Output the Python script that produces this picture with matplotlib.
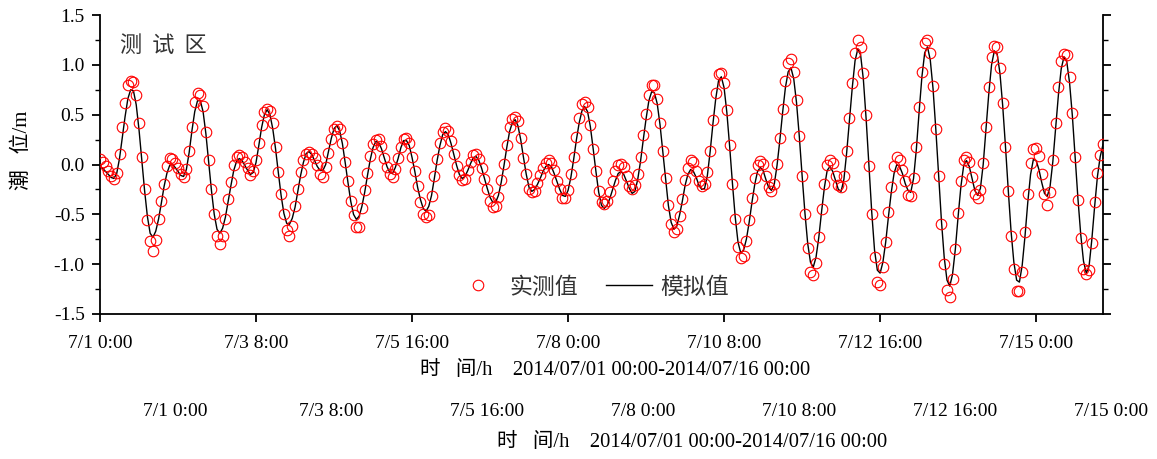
import matplotlib
matplotlib.use('Agg')
import matplotlib.pyplot as plt
from matplotlib.ticker import MultipleLocator, FixedLocator, FixedFormatter, FuncFormatter

# ---------------- data (hourly, 2014/07/01 00:00 - 07/16 00:00) ----------------
hours = list(range(361))

simulated = [
    -0.02, -0.04, -0.07, -0.10, -0.13, -0.14, -0.09, 0.06, 0.27, 0.48,
    0.66, 0.75, 0.74, 0.60, 0.35, 0.05, -0.26, -0.52, -0.69, -0.73,
    -0.67, -0.55, -0.39, -0.22, -0.09, -0.01, 0.00, -0.03, -0.07, -0.11,
    -0.12, -0.05, 0.12, 0.34, 0.53, 0.64, 0.64, 0.53, 0.31, 0.03,
    -0.26, -0.50, -0.65, -0.69, -0.64, -0.53, -0.37, -0.21, -0.06, 0.03,
    0.06, 0.04, -0.01, -0.06, -0.10, -0.08, 0.02, 0.19, 0.37, 0.50,
    0.55, 0.50, 0.36, 0.16, -0.08, -0.31, -0.49, -0.59, -0.60, -0.54,
    -0.43, -0.27, -0.11, 0.02, 0.11, 0.13, 0.10, 0.04, -0.02, -0.06,
    -0.06, 0.00, 0.13, 0.26, 0.36, 0.39, 0.34, 0.21, 0.02, -0.18,
    -0.37, -0.50, -0.55, -0.52, -0.42, -0.28, -0.11, 0.05, 0.17, 0.23,
    0.22, 0.16, 0.07, -0.02, -0.08, -0.09, -0.03, 0.06, 0.17, 0.24,
    0.24, 0.19, 0.07, -0.07, -0.23, -0.35, -0.44, -0.47, -0.42, -0.31,
    -0.14, 0.04, 0.19, 0.30, 0.33, 0.30, 0.21, 0.10, -0.01, -0.10,
    -0.14, -0.12, -0.06, 0.01, 0.07, 0.08, 0.04, -0.04, -0.14, -0.24,
    -0.33, -0.38, -0.38, -0.31, -0.18, -0.01, 0.17, 0.33, 0.42, 0.45,
    0.39, 0.25, 0.07, -0.10, -0.23, -0.27, -0.25, -0.20, -0.14, -0.07,
    -0.02, 0.00, -0.02, -0.09, -0.17, -0.25, -0.31, -0.32, -0.26, -0.13,
    0.05, 0.25, 0.42, 0.54, 0.58, 0.53, 0.38, 0.16, -0.07, -0.28,
    -0.41, -0.44, -0.41, -0.34, -0.25, -0.16, -0.09, -0.07, -0.10, -0.17,
    -0.24, -0.29, -0.27, -0.15, 0.03, 0.25, 0.46, 0.64, 0.73, 0.72,
    0.61, 0.40, 0.13, -0.15, -0.41, -0.58, -0.65, -0.62, -0.51, -0.37,
    -0.21, -0.10, -0.05, -0.07, -0.13, -0.21, -0.25, -0.24, -0.11, 0.13,
    0.41, 0.66, 0.84, 0.88, 0.77, 0.52, 0.18, -0.19, -0.53, -0.78,
    -0.89, -0.86, -0.75, -0.58, -0.38, -0.20, -0.07, -0.03, -0.06, -0.15,
    -0.23, -0.26, -0.20, -0.01, 0.24, 0.52, 0.77, 0.93, 0.97, 0.86,
    0.62, 0.28, -0.11, -0.48, -0.79, -0.98, -1.03, -0.93, -0.73, -0.47,
    -0.23, -0.06, -0.02, -0.07, -0.16, -0.25, -0.27, -0.15, 0.12, 0.45,
    0.77, 1.04, 1.16, 1.10, 0.85, 0.45, -0.02, -0.48, -0.86, -1.06,
    -1.09, -0.98, -0.78, -0.52, -0.28, -0.09, 0.00, -0.02, -0.09, -0.19,
    -0.26, -0.28, -0.14, 0.15, 0.53, 0.88, 1.12, 1.18, 1.05, 0.76,
    0.35, -0.11, -0.56, -0.93, -1.16, -1.22, -1.10, -0.85, -0.52, -0.22,
    -0.01, 0.04, -0.02, -0.14, -0.26, -0.31, -0.24, 0.00, 0.35, 0.71,
    1.00, 1.14, 1.11, 0.92, 0.59, 0.18, -0.26, -0.67, -0.98, -1.16,
    -1.18, -1.01, -0.72, -0.38, -0.10, 0.05, 0.04, -0.05, -0.18, -0.29,
    -0.32, -0.22, 0.03, 0.36, 0.70, 0.96, 1.08, 1.03, 0.82, 0.49,
    0.08, -0.34, -0.70, -0.97, -1.09, -1.02, -0.75, -0.42, -0.12, 0.08,
    0.20,
]

observed = [
    0.06, 0.03, -0.02, -0.07, -0.12, -0.15, -0.09, 0.11, 0.38, 0.62,
    0.80, 0.84, 0.83, 0.70, 0.42, 0.08, -0.25, -0.56, -0.77, -0.87,
    -0.76, -0.55, -0.37, -0.20, -0.02, 0.07, 0.06, 0.02, -0.04, -0.10,
    -0.13, -0.05, 0.14, 0.38, 0.63, 0.72, 0.70, 0.59, 0.33, 0.05,
    -0.25, -0.50, -0.72, -0.80, -0.72, -0.55, -0.35, -0.18, -0.01, 0.08,
    0.10, 0.08, 0.03, -0.04, -0.11, -0.07, 0.05, 0.22, 0.40, 0.53,
    0.56, 0.54, 0.42, 0.18, -0.08, -0.30, -0.50, -0.66, -0.72, -0.62,
    -0.42, -0.25, -0.08, 0.05, 0.11, 0.13, 0.11, 0.07, 0.00, -0.10,
    -0.13, -0.03, 0.12, 0.26, 0.36, 0.39, 0.36, 0.22, 0.03, -0.17,
    -0.37, -0.51, -0.63, -0.63, -0.44, -0.26, -0.09, 0.09, 0.21, 0.25,
    0.26, 0.19, 0.07, -0.03, -0.10, -0.13, -0.05, 0.07, 0.18, 0.26,
    0.27, 0.22, 0.08, -0.07, -0.22, -0.38, -0.50, -0.53, -0.51, -0.32,
    -0.12, 0.06, 0.22, 0.33, 0.37, 0.34, 0.24, 0.11, -0.02, -0.11,
    -0.16, -0.15, -0.06, 0.03, 0.10, 0.11, 0.06, -0.04, -0.15, -0.25,
    -0.37, -0.43, -0.42, -0.33, -0.16, 0.01, 0.20, 0.38, 0.46, 0.48,
    0.44, 0.27, 0.07, -0.10, -0.25, -0.28, -0.27, -0.19, -0.11, -0.04,
    0.02, 0.05, 0.02, -0.06, -0.17, -0.25, -0.34, -0.34, -0.26, -0.10,
    0.08, 0.28, 0.47, 0.61, 0.63, 0.58, 0.40, 0.16, -0.07, -0.27,
    -0.38, -0.40, -0.37, -0.28, -0.17, -0.07, -0.01, 0.01, -0.03, -0.12,
    -0.22, -0.25, -0.21, -0.10, 0.08, 0.30, 0.51, 0.70, 0.80, 0.80,
    0.66, 0.42, 0.14, -0.14, -0.41, -0.60, -0.68, -0.65, -0.52, -0.35,
    -0.16, -0.04, 0.05, 0.03, -0.07, -0.17, -0.22, -0.20, -0.08, 0.14,
    0.45, 0.72, 0.91, 0.92, 0.82, 0.55, 0.20, -0.20, -0.55, -0.83,
    -0.94, -0.92, -0.77, -0.56, -0.34, -0.14, -0.01, 0.04, 0.01, -0.12,
    -0.23, -0.27, -0.20, 0.01, 0.27, 0.56, 0.84, 1.02, 1.06, 0.93,
    0.65, 0.29, -0.12, -0.50, -0.84, -1.08, -1.11, -0.99, -0.73, -0.45,
    -0.20, 0.00, 0.05, 0.02, -0.12, -0.21, -0.23, -0.12, 0.14, 0.47,
    0.82, 1.12, 1.25, 1.18, 0.92, 0.50, -0.02, -0.50, -0.93, -1.18,
    -1.21, -1.03, -0.78, -0.48, -0.23, -0.02, 0.08, 0.05, -0.06, -0.17,
    -0.31, -0.32, -0.14, 0.18, 0.58, 0.93, 1.22, 1.25, 1.12, 0.79,
    0.36, -0.12, -0.60, -1.00, -1.26, -1.33, -1.15, -0.85, -0.49, -0.17,
    0.05, 0.08, 0.03, -0.13, -0.30, -0.34, -0.26, 0.02, 0.38, 0.78,
    1.08, 1.19, 1.18, 0.97, 0.62, 0.18, -0.27, -0.72, -1.05, -1.27,
    -1.27, -1.08, -0.68, -0.30, 0.02, 0.16, 0.17, 0.09, -0.10, -0.30,
    -0.41, -0.28, 0.05, 0.42, 0.78, 1.04, 1.11, 1.10, 0.88, 0.52,
    0.08, -0.36, -0.74, -1.05, -1.10, -1.06, -0.79, -0.38, -0.09, 0.10,
    0.21,
]

tick_hours = [0, 56, 112, 168, 224, 280, 336]
tick_labels = ['7/1 0:00', '7/3 8:00', '7/5 16:00', '7/8 0:00',
               '7/10 8:00', '7/12 16:00', '7/15 0:00']

# ---------------- figure ----------------
W, H = 1157, 459
fig = plt.figure(figsize=(W / 100, H / 100), dpi=100)
ax = fig.add_axes([100 / W, 1 - 314 / H, 1003 / W, 299 / H])

serif = ['Liberation Serif', 'Noto Sans CJK SC']
cjk = ['Noto Sans CJK SC', 'Liberation Serif']

ax.plot(hours, simulated, color='black', lw=1.0, label='模拟值', zorder=2)
ax.plot(hours, observed, linestyle='none', marker='o', mfc='none', mec='red',
        ms=7.6, mew=0.8, label='实测值', zorder=3)

ax.set_xlim(0, 360)
ax.set_ylim(-1.5, 1.5)

ax.xaxis.set_major_locator(FixedLocator(tick_hours))
ax.xaxis.set_major_formatter(FixedFormatter(tick_labels))
ax.yaxis.set_major_locator(MultipleLocator(0.5))
ax.yaxis.set_minor_locator(MultipleLocator(0.25))
ax.yaxis.set_major_formatter(FuncFormatter(lambda v, p: f'{v:.1f}'.replace('\u2212', '-')))

ax.spines['top'].set_visible(False)
for s in ['left', 'bottom', 'right']:
    ax.spines[s].set_linewidth(1.3)
    ax.spines[s].set_color('black')

ax.tick_params(axis='both', which='major', direction='out', length=6, width=1.3,
               labelsize=14, colors='black')
ax.tick_params(axis='y', which='minor', direction='out', length=3.5, width=1.0)
ax.tick_params(axis='y', which='both', right=True, labelright=False)
ax.tick_params(axis='x', which='major', pad=9)
ax.tick_params(axis='y', which='major', pad=5)
for lab in ax.get_xticklabels() + ax.get_yticklabels():
    lab.set_fontfamily(serif)

ax.set_ylabel('潮   位/m', fontsize=15, family=serif)
ax.yaxis.set_label_coords(-68 / 1003, (314 - 150) / 299)

xlabel_text = '时   间/h    2014/07/01 00:00-2014/07/16 00:00'
fig.text(420 / W, 1 - 370 / H, xlabel_text,
         ha='left', va='center', fontsize=14.8, family=serif)

ax.text(20 / 1003, (314 - 45) / 299, '测  试  区', transform=ax.transAxes,
        ha='left', va='center', fontsize=16, family=cjk, color='#333333')

leg = ax.legend(handles=[ax.lines[1], ax.lines[0]], ncol=2, frameon=False,
                loc='center', bbox_to_anchor=(492 / 1003, (314 - 287) / 299),
                prop={'family': cjk, 'size': 16.5}, handlelength=2.0,
                handletextpad=0.4, columnspacing=1.2, labelcolor='#333333')

# duplicated lower label row present in the reference image
for i, lab in enumerate(tick_labels):
    fig.text((175 + 156 * i) / W, 1 - 412 / H, lab, ha='center', va='center',
             fontsize=14, family=serif)
fig.text(497 / W, 1 - 442 / H, xlabel_text,
         ha='left', va='center', fontsize=14.8, family=serif)

fig.savefig('out.png', dpi=100)
